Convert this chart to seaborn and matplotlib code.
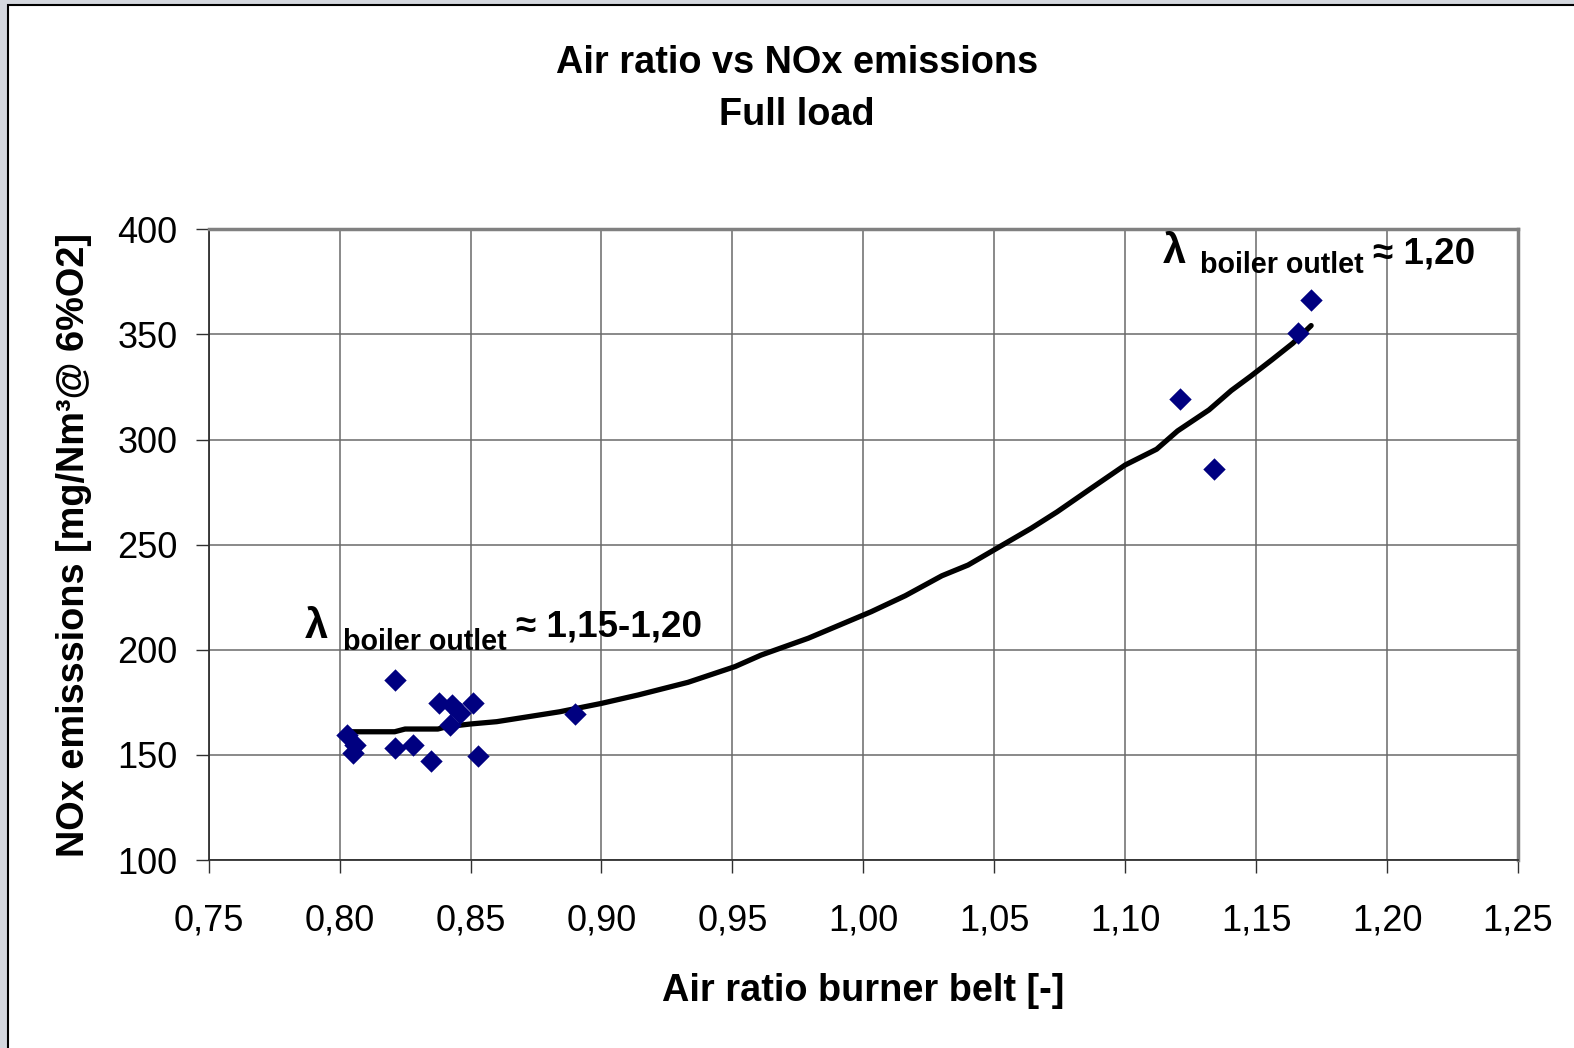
import matplotlib
matplotlib.use('Agg')
import matplotlib.pyplot as plt
import seaborn as sns
import pandas as pd
from matplotlib.patches import Rectangle

# Measured points (air ratio burner belt vs NOx)
air_ratio = [0.803, 0.806, 0.805, 0.821, 0.821, 0.828, 0.835, 0.838, 0.843,
             0.846, 0.842, 0.851, 0.853, 0.890, 1.121, 1.134, 1.166, 1.171]
nox = [159.5, 154.7, 150.8, 185.6, 153.4, 154.7, 147.2, 174.5, 173.7,
       169.8, 164.2, 174.8, 149.6, 169.5, 319.3, 286.1, 350.5, 366.4]

# Trend line
trend_x = [0.803, 0.821, 0.825, 0.8375, 0.841, 0.850, 0.860, 0.884, 0.900,
           0.914, 0.933, 0.951, 0.961, 0.979, 0.991, 1.003, 1.016, 1.030,
           1.040, 1.052, 1.064, 1.074, 1.087, 1.100, 1.112, 1.120, 1.132,
           1.1405, 1.148, 1.156, 1.164, 1.171]
trend_y = [161.0, 161.0, 162.3, 162.3, 163.4, 164.7, 165.8, 170.5, 174.5,
           178.5, 184.5, 192.0, 197.5, 205.5, 211.8, 218.1, 225.7, 235.2,
           240.3, 249.0, 257.7, 265.6, 276.8, 287.9, 295.4, 304.1, 314.1,
           323.3, 330.2, 337.9, 345.8, 354.2]

x_ticks = [0.75, 0.80, 0.85, 0.90, 0.95, 1.00, 1.05, 1.10, 1.15, 1.20, 1.25]
x_tick_labels = ['0,75', '0,80', '0,85', '0,90', '0,95', '1,00', '1,05',
                 '1,10', '1,15', '1,20', '1,25']
y_ticks = [100, 150, 200, 250, 300, 350, 400]
y_tick_labels = ['100', '150', '200', '250', '300', '350', '400']

title_text = "Air ratio vs NOx emissions\nFull load"
x_label = "Air ratio burner belt [-]"
y_label = "NOx emisssions [mg/Nm³@ 6%O2]"

sns.set_theme(style='white')
plt.rcParams['font.family'] = ['Liberation Sans', 'DejaVu Sans']
plt.rcParams['text.color'] = 'black'
plt.rcParams['axes.labelcolor'] = 'black'

W, H = 1574, 1048
fig = plt.figure(figsize=(W / 100, H / 100), dpi=100, facecolor='#d4d7de')
fig.patches.append(Rectangle((8 / W, -0.1), 1.2, 1 - 5 / H + 0.1,
                             transform=fig.transFigure, facecolor='white',
                             edgecolor='black', linewidth=1.5, zorder=-5))

ax = fig.add_axes([208.7 / W, 1 - 860 / H, (1518 - 208.7) / W, (860 - 229.3) / H])
ax.set_facecolor('white')

pts = pd.DataFrame({'x': air_ratio, 'y': nox})
trend = pd.DataFrame({'x': trend_x, 'y': trend_y})

sns.lineplot(data=trend, x='x', y='y', ax=ax, color='black', linewidth=3.8,
             sort=False, estimator=None, zorder=3)
sns.scatterplot(data=pts, x='x', y='y', ax=ax, marker='D', s=130,
                color='#000080', linewidth=0, zorder=4)

ax.set_xlim(0.75, 1.25)
ax.set_ylim(100, 400)
ax.set_xticks(x_ticks)
ax.set_xticklabels(x_tick_labels)
ax.set_yticks(y_ticks)
ax.set_yticklabels(y_tick_labels)
ax.tick_params(axis='both', direction='out', length=9.5, width=1,
               color='#303030', labelsize=26, labelcolor='black')
ax.tick_params(axis='x', pad=22)
ax.tick_params(axis='y', pad=13)
ax.tick_params(bottom=True, left=True)

ax.grid(True, color='#6a6a6a', linewidth=1.1)
ax.set_axisbelow(True)
for s in ['top', 'right']:
    ax.spines[s].set_color('#808080')
    ax.spines[s].set_linewidth(2.5)
for s in ['left', 'bottom']:
    ax.spines[s].set_color('#303030')
    ax.spines[s].set_linewidth(1.3)

ax.set_xlabel(x_label, fontsize=27.3, fontweight='bold', labelpad=25)
ax.set_ylabel(y_label, fontsize=27.3, fontweight='bold', labelpad=18)

fig.text(797 / W, 1 - 89 / H, title_text, ha='center', va='center',
         fontsize=27.3, fontweight='bold', linespacing=1.6)

# Annotations
ax.text(0.7868, 205.6, "λ", fontsize=30, fontweight='bold', ha='left', va='baseline')
ax.text(0.8012, 199.9, "boiler outlet", fontsize=20.6, fontweight='bold', ha='left', va='baseline')
ax.text(0.8675, 206.1, "≈ 1,15-1,20", fontsize=26.5, fontweight='bold', ha='left', va='baseline')

ax.text(1.1142, 384.0, "λ", fontsize=30, fontweight='bold', ha='left', va='baseline')
ax.text(1.1285, 379.1, "boiler outlet", fontsize=20.6, fontweight='bold', ha='left', va='baseline')
ax.text(1.1945, 383.8, "≈ 1,20", fontsize=26.5, fontweight='bold', ha='left', va='baseline')

fig.savefig('out.png', dpi=100, facecolor=fig.get_facecolor())
